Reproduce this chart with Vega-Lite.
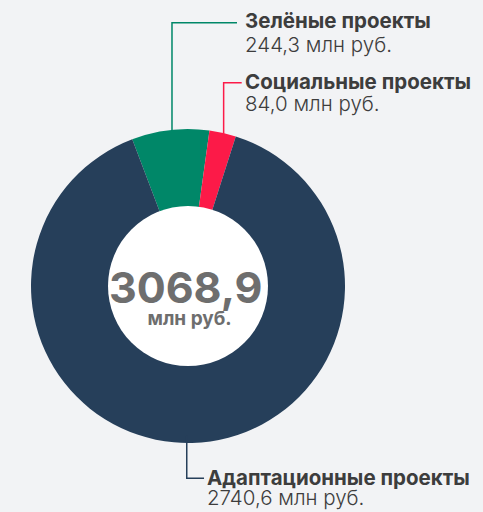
{
  "$schema": "https://vega.github.io/schema/vega-lite/v6.json",
  "width": 483,
  "height": 512,
  "padding": 0,
  "autosize": {"type": "none"},
  "background": "#f2f3f5",
  "config": {"view": {"stroke": null}},
  "datasets": {
    "segments": [
      {"category": "Зелёные проекты", "value": 244.3, "ord": 1},
      {"category": "Социальные проекты", "value": 84.0, "ord": 2},
      {"category": "Адаптационные проекты", "value": 2740.6, "ord": 3}
    ],
    "leaders": [
      {"category": "Зелёные проекты", "step": 1, "x": -0.102, "y": 0.99},
      {"category": "Зелёные проекты", "step": 2, "x": -0.102, "y": 1.677},
      {"category": "Зелёные проекты", "step": 3, "x": 0.312, "y": 1.677},
      {"category": "Социальные проекты", "step": 1, "x": 0.227, "y": 0.97},
      {"category": "Социальные проекты", "step": 2, "x": 0.227, "y": 1.295},
      {"category": "Социальные проекты", "step": 3, "x": 0.342, "y": 1.295},
      {"category": "Адаптационные проекты", "step": 1, "x": -0.008, "y": -0.95},
      {"category": "Адаптационные проекты", "step": 2, "x": -0.008, "y": -1.225},
      {"category": "Адаптационные проекты", "step": 3, "x": 0.102, "y": -1.225}
    ],
    "labels": [
      {"text": "Зелёные проекты", "kind": "title", "x": 0.363, "y": 1.641},
      {"text": "244,3 млн руб.", "kind": "value", "x": 0.363, "y": 1.489},
      {"text": "Социальные проекты", "kind": "title", "x": 0.363, "y": 1.253},
      {"text": "84,0 млн руб.", "kind": "value", "x": 0.363, "y": 1.115},
      {"text": "Адаптационные проекты", "kind": "title", "x": 0.121, "y": -1.268},
      {"text": "2740,6 млн руб.", "kind": "value", "x": 0.121, "y": -1.395}
    ],
    "center": [
      {"text": "3068,9", "kind": "total", "x": -0.015, "y": -0.11},
      {"text": "млн руб.", "kind": "unit", "x": 0.01, "y": -0.248}
    ]
  },
  "encoding": {
    "x": {"type": "quantitative", "scale": {"domain": [-1.1975, 1.879], "nice": false, "zero": false}, "axis": null},
    "y": {"type": "quantitative", "scale": {"domain": [-1.4395, 1.8217], "nice": false, "zero": false}, "axis": null}
  },
  "layer": [
    {
      "data": {"name": "segments"},
      "mark": {"type": "arc", "outerRadius": 157, "innerRadius": 79, "stroke": null},
      "encoding": {
        "x": {"datum": 0, "type": "quantitative"},
        "y": {"datum": 0, "type": "quantitative"},
        "theta": {"field": "value", "type": "quantitative", "stack": true, "scale": {"range": [-0.363, 5.9202]}},
        "order": {"field": "ord", "type": "quantitative"},
        "color": {
          "field": "category", "type": "nominal", "legend": null,
          "scale": {"domain": ["Зелёные проекты", "Социальные проекты", "Адаптационные проекты"], "range": ["#008768", "#fc1a48", "#263f5a"]}
        }
      }
    },
    {
      "data": {"values": [{"c": 0}]},
      "mark": {"type": "point", "filled": true, "color": "#ffffff", "opacity": 1, "size": 25600, "strokeWidth": 0},
      "encoding": {
        "x": {"datum": 0, "type": "quantitative"},
        "y": {"datum": 0, "type": "quantitative"}
      }
    },
    {
      "data": {"name": "leaders"},
      "mark": {"type": "line", "strokeWidth": 1.5, "interpolate": "linear"},
      "encoding": {
        "x": {"field": "x", "type": "quantitative"},
        "y": {"field": "y", "type": "quantitative"},
        "order": {"field": "step", "type": "quantitative"},
        "color": {"field": "category", "type": "nominal", "legend": null}
      }
    },
    {
      "data": {"name": "labels"},
      "transform": [{"filter": "datum.kind === 'title'"}],
      "mark": {"type": "text", "align": "left", "baseline": "alphabetic", "font": "Inter", "fontWeight": "bold", "fontSize": 20.5, "color": "#3d3d3d"},
      "encoding": {
        "x": {"field": "x", "type": "quantitative"},
        "y": {"field": "y", "type": "quantitative"},
        "text": {"field": "text"}
      }
    },
    {
      "data": {"name": "labels"},
      "transform": [{"filter": "datum.kind === 'value'"}],
      "mark": {"type": "text", "align": "left", "baseline": "alphabetic", "font": "Inter", "fontWeight": 300, "fontSize": 20.5, "color": "#3d3d3d"},
      "encoding": {
        "x": {"field": "x", "type": "quantitative"},
        "y": {"field": "y", "type": "quantitative"},
        "text": {"field": "text"}
      }
    },
    {
      "data": {"name": "center"},
      "transform": [{"filter": "datum.kind === 'total'"}],
      "mark": {"type": "text", "align": "center", "baseline": "alphabetic", "font": "Inter", "fontWeight": "bold", "fontSize": 43, "color": "#6e6e6e"},
      "encoding": {
        "x": {"field": "x", "type": "quantitative"},
        "y": {"field": "y", "type": "quantitative"},
        "text": {"field": "text"}
      }
    },
    {
      "data": {"name": "center"},
      "transform": [{"filter": "datum.kind === 'unit'"}],
      "mark": {"type": "text", "align": "center", "baseline": "alphabetic", "font": "Inter", "fontWeight": "bold", "fontSize": 19, "color": "#6e6e6e"},
      "encoding": {
        "x": {"field": "x", "type": "quantitative"},
        "y": {"field": "y", "type": "quantitative"},
        "text": {"field": "text"}
      }
    }
  ]
}
